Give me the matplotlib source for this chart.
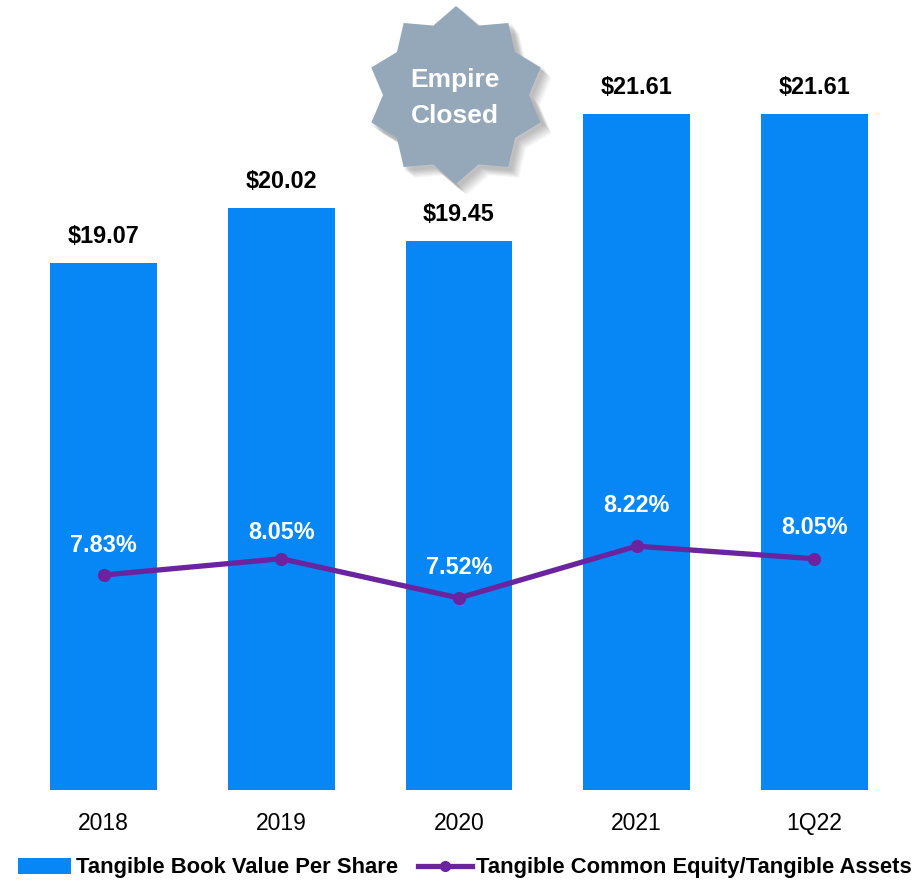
import numpy as np
import matplotlib
matplotlib.use('Agg')
import matplotlib.pyplot as plt
from matplotlib.patches import Polygon, Patch
from matplotlib.lines import Line2D

categories = ['2018', '2019', '2020', '2021', '1Q22']
book_value = [19.07, 20.02, 19.45, 21.61, 21.61]
book_labels = ['$19.07', '$20.02', '$19.45', '$21.61', '$21.61']
equity_ratio = [7.83, 8.05, 7.52, 8.22, 8.05]
ratio_labels = ['7.83%', '8.05%', '7.52%', '8.22%', '8.05%']
# the percent labels were placed by hand in the original, each sits a bit differently
ratio_label_gap = [18, 15, 19, 29, 20]

BLUE = '#0687F5'
PURPLE = '#6B24A0'
W, H = 924, 883

plt.rcParams['font.family'] = ['Liberation Sans', 'DejaVu Sans']

fig = plt.figure(figsize=(W / 100, H / 100), dpi=100)
# axes run from the bar bottoms (y=790) up to the top edge of the image
ax = fig.add_axes([14.7 / W, (H - 790) / H, 888.5 / W, 790 / H])
x = np.arange(len(categories))
ax.bar(x, book_value, width=0.6, color=BLUE, zorder=2)
ax.set_xlim(-0.5, 4.5)
ax.set_ylim(10.09, 23.56)
ax.set_xticks(x)
ax.set_xticklabels(categories, fontsize=16.5)
ax.tick_params(axis='x', length=0, pad=15.5)
ax.set_yticks([])
for s in ax.spines.values():
    s.set_visible(False)
for i, lab in enumerate(book_labels):
    ax.annotate(lab, (x[i], book_value[i]), xytext=(0, 15), textcoords='offset pixels',
                ha='center', va='bottom', fontsize=16.8, fontweight='bold', color='black')

ax2 = ax.twinx()
ax2.plot(x, equity_ratio, color=PURPLE, lw=3.8, marker='o', ms=8.5, zorder=3)
ax2.set_ylim(4.925, 15.6)
ax2.set_yticks([])
for s in ax2.spines.values():
    s.set_visible(False)
for i, lab in enumerate(ratio_labels):
    ax2.annotate(lab, (x[i], equity_ratio[i]), xytext=(0, ratio_label_gap[i]), textcoords='offset pixels',
                 ha='center', va='bottom', fontsize=16.8, fontweight='bold', color='white')

# starburst badge, pixel coordinates
over = fig.add_axes([0, 0, 1, 1], zorder=5)
over.set_xlim(0, W)
over.set_ylim(H, 0)
over.axis('off')
ang = np.deg2rad(np.arange(20) * 18 - 90)
rad = np.where(np.arange(20) % 2 == 0, 89, 73)
pts = np.column_stack([456 + rad * np.cos(ang), 95 + rad * np.sin(ang)])
# soft shadow to the lower right
for off in np.arange(11, 1, -1):
    over.add_patch(Polygon(pts + off, closed=True, fc='black', ec='black', lw=(11 - off) * 0.3, alpha=0.025))
over.add_patch(Polygon(pts, closed=True, fc='#95A8BA', ec='none'))
over.text(455, 80, 'Empire', ha='center', va='center', color='white', fontsize=19, fontweight='bold')
over.text(455, 116, 'Closed', ha='center', va='center', color='white', fontsize=19, fontweight='bold')

handles = [Patch(fc=BLUE, ec='none'),
           Line2D([0], [0], color=PURPLE, lw=3.8, marker='o', ms=7)]
fig.legend(handles, ['Tangible Book Value Per Share', 'Tangible Common Equity/Tangible Assets'],
           loc='center', bbox_to_anchor=(464.7 / W, (H - 868) / H), ncol=2, frameon=False,
           prop={'size': 15.8, 'weight': 'bold'}, handlelength=2.45, handletextpad=0.2,
           columnspacing=0.9, borderpad=0, borderaxespad=0)

fig.savefig('out.png', dpi=100)
